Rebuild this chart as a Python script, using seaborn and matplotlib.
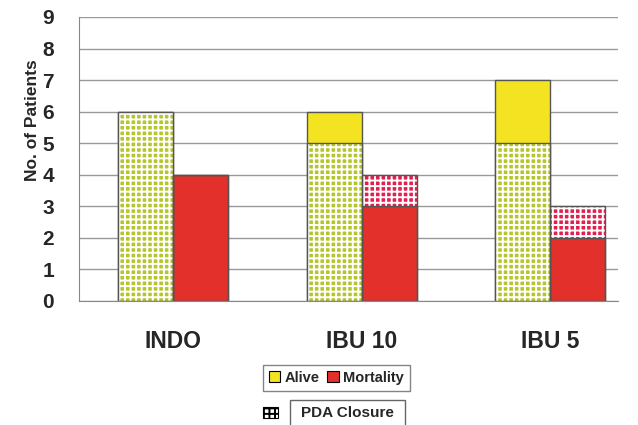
import seaborn as sns
import matplotlib.pyplot as plt
import pandas as pd
from matplotlib.patches import Rectangle, Patch

groups = ["INDO", "IBU 10", "IBU 5"]
alive_closed = [6, 5, 5]      # PDA closure, alive (green dots)
alive_open = [0, 1, 2]        # alive, no closure (yellow)
dead_open = [4, 3, 2]         # mortality (red)
dead_closed = [0, 1, 1]       # mortality with PDA closure (pink dots)
yticks = list(range(0, 10))

yellow = "#f3e321"
red = "#e3302a"
green = "#b5c62c"
pink = "#e2204f"
edge = "#555555"

sns.set_style("white")
plt.rcParams["font.family"] = ["Liberation Sans", "DejaVu Sans"]
plt.rcParams["hatch.linewidth"] = 1.4

totals = pd.DataFrame({
    "group": groups * 2,
    "side": ["alive"] * 3 + ["dead"] * 3,
    "value": [a + b for a, b in zip(alive_closed, alive_open)]
             + [a + b for a, b in zip(dead_open, dead_closed)],
})
bases = pd.DataFrame({
    "group": groups * 2,
    "side": ["alive"] * 3 + ["dead"] * 3,
    "value": alive_closed + dead_open,
})

fig = plt.figure(figsize=(6.38, 4.25), dpi=100)
ax = fig.add_axes([0.124, 0.292, 0.845, 0.668])

# top segments first, lower segments drawn over them
sns.barplot(data=totals, x="group", y="value", hue="side", order=groups,
            hue_order=["alive", "dead"], palette=[yellow, "white"],
            width=0.585, gap=0, legend=False, ax=ax, saturation=1)
n_top = len(ax.patches)
sns.barplot(data=bases, x="group", y="value", hue="side", order=groups,
            hue_order=["alive", "dead"], palette=[green, red],
            width=0.585, gap=0, legend=False, ax=ax, saturation=1)

for i, p in enumerate(list(ax.patches)):
    cx = p.get_x() + p.get_width() / 2
    left = cx < round(cx)
    top = i < n_top
    if (left and not top) or (not left and top):
        # dotted PDA closure segment: coloured cells split by a white grid
        p.set_facecolor(green if left else pink)
        p.set_edgecolor("white")
        p.set_hatch("+++")
        p.set_linewidth(0)
        ax.add_patch(Rectangle(p.get_xy(), p.get_width(), p.get_height(),
                               fill=False, ec=edge, lw=1, zorder=p.get_zorder() + 0.1))
    else:
        p.set_edgecolor(edge)
        p.set_linewidth(1)

ax.set_xlim(-0.5, 2.36)
ax.set_ylim(0, 9)
ax.set_yticks(yticks)
ax.yaxis.grid(True, color="#999999", lw=1)
ax.set_axisbelow(True)
for s in ["top", "right"]:
    ax.spines[s].set_visible(False)
ax.spines["left"].set_color("#888888")
ax.spines["bottom"].set_color("#888888")
ax.tick_params(axis="y", direction="out", length=5, color="#888888",
               labelsize=15, pad=13)
ax.tick_params(axis="x", length=0, labelsize=16.5, pad=21)
for lab in ax.get_yticklabels() + ax.get_xticklabels():
    lab.set_fontweight("bold")
ax.set_xlabel("")
ax.set_ylabel("No. of Patients", fontsize=12.5, fontweight="bold")
ax.yaxis.set_label_coords(-0.072, 0.635)

handles = [Patch(facecolor=yellow, edgecolor="black", lw=0.8),
           Patch(facecolor=red, edgecolor="black", lw=0.8)]
leg = fig.legend(handles, ["Alive", "Mortality"], loc="center",
                 bbox_to_anchor=(0.527, 0.111), ncol=2, frameon=True,
                 fancybox=False, edgecolor="#666666", handlelength=0.8,
                 handleheight=0.8, handletextpad=0.3, columnspacing=0.5,
                 borderpad=0.4, prop={"weight": "bold", "size": 10.5})

# separate "PDA Closure" key below the legend
fig.patches.append(Rectangle((0.413, 0.016), 0.022, 0.027, transform=fig.transFigure,
                             facecolor="white", edgecolor="black", hatch="+++", lw=0))
fig.patches.append(Rectangle((0.413, 0.016), 0.022, 0.027, transform=fig.transFigure,
                             fill=False, edgecolor="black", lw=0.8))
fig.patches.append(Rectangle((0.455, -0.02), 0.18, 0.079, transform=fig.transFigure,
                             facecolor="white", edgecolor="#666666", lw=1))
fig.text(0.545, 0.028, "PDA Closure", ha="center", va="center", fontsize=11,
         fontweight="bold")

fig.savefig("out.png", dpi=100)
